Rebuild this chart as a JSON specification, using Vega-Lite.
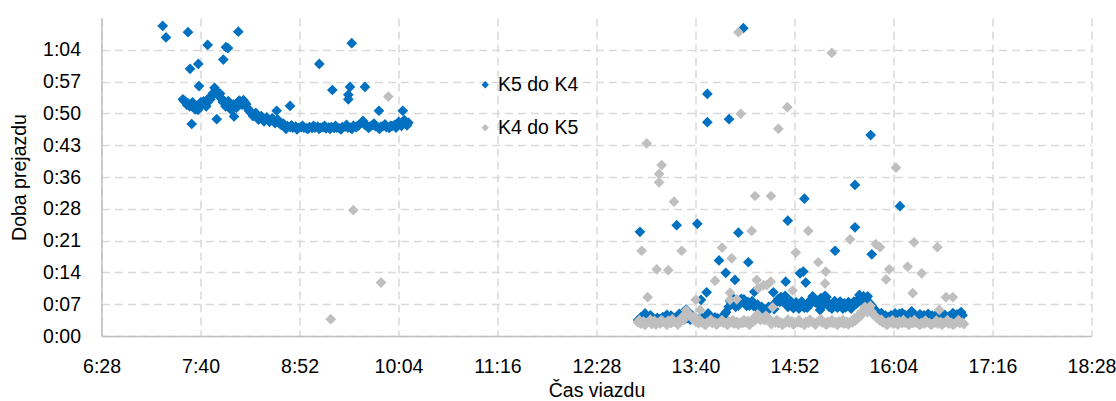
{
  "$schema": "https://vega.github.io/schema/vega-lite/v6.json",
  "autosize": {"type": "none"},
  "padding": {"left": 101.5, "top": 18, "right": 25, "bottom": 65},
  "width": 990,
  "height": 318,
  "background": "white",
  "config": {
    "view": {"stroke": null},
    "font": "Liberation Sans",
    "axis": {
      "labelFont": "Liberation Sans",
      "titleFont": "Liberation Sans",
      "labelFontSize": 19.5,
      "titleFontSize": 19.5,
      "titleFontWeight": "normal",
      "labelColor": "#000000",
      "titleColor": "#000000",
      "domainColor": "#BFBFBF",
      "domainWidth": 1.5,
      "gridColor": "#D9D9D9",
      "gridDash": [8, 5],
      "gridWidth": 1.5,
      "ticks": false,
      "tickSize": 0
    },
    "legend": {
      "labelFont": "Liberation Sans",
      "labelFontSize": 19.5,
      "labelColor": "#000000"
    }
  },
  "datasets": {
    "blue": [
      {"t":448,"v":53.6},{"t":449,"v":53.2},{"t":450,"v":53.0},{"t":452,"v":52.6},{"t":453,"v":52.0},{"t":454,"v":52.2},{"t":456,"v":51.9},{"t":457,"v":51.3},{"t":458,"v":51.8},{"t":460,"v":52.2},{"t":462,"v":52.5},{"t":463,"v":53.1},{"t":464,"v":52.4},{"t":466,"v":53.0},{"t":468,"v":53.6},{"t":470,"v":55.0},{"t":471,"v":56.2},{"t":472,"v":55.6},{"t":473,"v":54.8},{"t":474,"v":54.4},{"t":476,"v":53.8},{"t":477,"v":53.0},{"t":478,"v":53.2},{"t":480,"v":52.6},{"t":482,"v":52.1},{"t":483,"v":51.2},{"t":484,"v":51.6},{"t":486,"v":52.0},{"t":488,"v":52.6},{"t":490,"v":53.0},{"t":491,"v":52.4},{"t":492,"v":53.4},{"t":494,"v":52.5},{"t":496,"v":51.0},{"t":498,"v":50.4},{"t":500,"v":50.0},{"t":502,"v":49.6},{"t":504,"v":49.3},{"t":506,"v":49.2},{"t":508,"v":49.0},{"t":510,"v":49.1},{"t":512,"v":48.9},{"t":514,"v":48.8},{"t":516,"v":48.6},{"t":518,"v":48.3},{"t":520,"v":47.8},{"t":522,"v":47.4},{"t":524,"v":47.5},{"t":526,"v":47.3},{"t":528,"v":47.2},{"t":530,"v":47.4},{"t":532,"v":47.1},{"t":534,"v":47.3},{"t":536,"v":47.2},{"t":538,"v":47.0},{"t":540,"v":47.3},{"t":542,"v":47.1},{"t":544,"v":47.2},{"t":546,"v":47.4},{"t":548,"v":47.1},{"t":550,"v":47.3},{"t":552,"v":47.0},{"t":554,"v":47.2},{"t":556,"v":47.3},{"t":558,"v":47.1},{"t":560,"v":47.2},{"t":562,"v":47.0},{"t":564,"v":47.3},{"t":566,"v":47.4},{"t":568,"v":47.2},{"t":570,"v":47.1},{"t":572,"v":47.6},{"t":574,"v":47.3},{"t":576,"v":47.8},{"t":578,"v":48.3},{"t":580,"v":47.9},{"t":582,"v":47.6},{"t":584,"v":47.4},{"t":586,"v":47.8},{"t":588,"v":47.5},{"t":590,"v":47.2},{"t":592,"v":47.4},{"t":594,"v":47.6},{"t":596,"v":47.3},{"t":598,"v":47.1},{"t":600,"v":47.5},{"t":602,"v":47.8},{"t":604,"v":47.6},{"t":606,"v":48.0},{"t":608,"v":48.4},{"t":610,"v":48.1},{"t":612,"v":48.3},
      {"t":451,"v":52.3},{"t":455,"v":52.9},{"t":459,"v":51.2},{"t":461,"v":52.9},{"t":465,"v":52.0},{"t":467,"v":53.9},{"t":469,"v":54.3},{"t":475,"v":54.9},{"t":479,"v":52.0},{"t":481,"v":53.2},{"t":485,"v":52.4},{"t":487,"v":51.7},{"t":489,"v":53.3},{"t":493,"v":52.9},{"t":495,"v":51.6},{"t":497,"v":50.9},{"t":499,"v":49.8},{"t":501,"v":50.5},{"t":503,"v":49.0},{"t":505,"v":49.8},{"t":507,"v":48.6},{"t":509,"v":49.5},{"t":511,"v":48.5},{"t":513,"v":49.3},{"t":515,"v":48.2},{"t":517,"v":49.0},{"t":519,"v":47.9},{"t":521,"v":48.1},{"t":523,"v":46.9},{"t":527,"v":47.7},{"t":531,"v":46.8},{"t":535,"v":47.6},{"t":539,"v":46.9},{"t":543,"v":47.6},{"t":547,"v":46.9},{"t":551,"v":47.6},{"t":555,"v":46.9},{"t":559,"v":47.6},{"t":563,"v":46.8},{"t":567,"v":47.8},{"t":571,"v":46.9},{"t":575,"v":47.5},{"t":579,"v":48.7},{"t":583,"v":47.1},{"t":587,"v":48.1},{"t":591,"v":46.9},{"t":595,"v":47.9},{"t":599,"v":47.6},{"t":603,"v":47.2},{"t":605,"v":48.5},{"t":607,"v":47.6},{"t":609,"v":48.9},{"t":611,"v":47.7},
      {"t":433.3,"v":70.2},{"t":435.7,"v":67.6},{"t":451.7,"v":68.8},{"t":466,"v":65.9},{"t":488.3,"v":68.9},{"t":479.3,"v":65.4},{"t":480.8,"v":65.2},{"t":477.4,"v":62.6},{"t":459.2,"v":61.6},{"t":453.2,"v":60.5},{"t":459.7,"v":56.6},{"t":454.4,"v":48.0},{"t":472.6,"v":49.1},{"t":485.2,"v":49.7},{"t":516.2,"v":51.0},{"t":525.9,"v":52.1},{"t":547.2,"v":61.6},{"t":556.7,"v":55.7},{"t":570.8,"v":66.3},{"t":569.5,"v":56.4},{"t":568.3,"v":54.6},{"t":568.3,"v":53.6},{"t":580.4,"v":56.4},{"t":590.6,"v":51.0},{"t":607.9,"v":51.0},
      {"t":779,"v":3.6},{"t":781,"v":4.2},{"t":783,"v":3.8},{"t":785,"v":4.4},{"t":787,"v":3.7},{"t":789,"v":4.0},{"t":791,"v":3.5},{"t":793,"v":4.1},{"t":795,"v":3.8},{"t":797,"v":4.3},{"t":799,"v":3.6},{"t":801,"v":4.0},{"t":803,"v":4.6},{"t":805,"v":3.9},{"t":807,"v":4.2},{"t":809,"v":5.0},{"t":811,"v":4.4},{"t":813,"v":3.8},{"t":815,"v":4.1},{"t":817,"v":3.7},{"t":819,"v":4.3},{"t":821,"v":4.0},{"t":823,"v":3.6},{"t":825,"v":4.2},{"t":827,"v":3.9},{"t":829,"v":4.5},{"t":831,"v":4.1},{"t":833,"v":3.8},{"t":835,"v":4.2},{"t":837,"v":4.0},{"t":839,"v":3.7},{"t":841,"v":4.4},{"t":843,"v":5.4},{"t":845,"v":6.6},{"t":846,"v":7.9},{"t":847,"v":7.4},{"t":849,"v":7.8},{"t":850,"v":6.6},{"t":851,"v":7.3},{"t":853,"v":7.6},{"t":854,"v":8.4},{"t":855,"v":7.9},{"t":857,"v":7.4},{"t":859,"v":7.7},{"t":860,"v":6.9},{"t":861,"v":7.2},{"t":863,"v":6.8},{"t":865,"v":6.5},{"t":867,"v":6.2},{"t":869,"v":6.6},{"t":871,"v":6.0},{"t":873,"v":5.8},{"t":875,"v":6.3},{"t":877,"v":6.9},{"t":879,"v":7.6},{"t":881,"v":8.4},{"t":883,"v":8.8},{"t":884,"v":7.8},{"t":885,"v":8.2},{"t":887,"v":7.5},{"t":889,"v":7.0},{"t":891,"v":7.3},{"t":892,"v":6.3},{"t":893,"v":6.8},{"t":895,"v":7.1},{"t":897,"v":6.7},{"t":899,"v":7.2},{"t":900,"v":6.4},{"t":901,"v":7.0},{"t":903,"v":7.6},{"t":905,"v":8.3},{"t":907,"v":8.6},{"t":908,"v":7.6},{"t":909,"v":8.0},{"t":911,"v":7.4},{"t":913,"v":7.8},{"t":915,"v":8.3},{"t":917,"v":7.5},{"t":919,"v":7.0},{"t":920,"v":6.2},{"t":921,"v":7.3},{"t":923,"v":6.8},{"t":925,"v":7.2},{"t":927,"v":6.9},{"t":928,"v":6.2},{"t":929,"v":7.4},{"t":931,"v":7.0},{"t":933,"v":6.6},{"t":935,"v":7.1},{"t":937,"v":7.5},{"t":939,"v":8.2},{"t":941,"v":8.8},{"t":942,"v":7.8},{"t":943,"v":9.0},{"t":945,"v":8.5},{"t":947,"v":7.6},{"t":949,"v":6.8},{"t":951,"v":6.0},{"t":953,"v":5.3},{"t":955,"v":4.8},{"t":957,"v":4.5},{"t":959,"v":4.6},{"t":961,"v":4.3},{"t":963,"v":4.7},{"t":965,"v":4.4},{"t":967,"v":4.6},{"t":969,"v":5.0},{"t":971,"v":5.2},{"t":973,"v":4.8},{"t":975,"v":4.5},{"t":977,"v":4.9},{"t":979,"v":5.1},{"t":981,"v":4.6},{"t":983,"v":4.3},{"t":985,"v":4.4},{"t":987,"v":4.7},{"t":989,"v":4.5},{"t":991,"v":4.2},{"t":993,"v":4.6},{"t":995,"v":4.4},{"t":997,"v":4.2},{"t":999,"v":4.5},{"t":1001,"v":4.3},{"t":1003,"v":4.1},{"t":1005,"v":4.4},{"t":1007,"v":4.6},{"t":1009,"v":4.5},{"t":1011,"v":4.9},{"t":1013,"v":5.1},{"t":1015,"v":4.7},
      {"t":848,"v":8.6},{"t":852,"v":6.9},{"t":856,"v":8.3},{"t":858,"v":6.8},{"t":862,"v":7.9},{"t":866,"v":7.1},{"t":870,"v":5.5},{"t":874,"v":6.6},{"t":878,"v":6.1},{"t":882,"v":7.7},{"t":886,"v":9.1},{"t":888,"v":6.6},{"t":890,"v":7.9},{"t":894,"v":7.6},{"t":896,"v":6.2},{"t":898,"v":7.8},{"t":902,"v":6.4},{"t":904,"v":7.1},{"t":906,"v":9.0},{"t":910,"v":7.2},{"t":912,"v":8.6},{"t":914,"v":7.1},{"t":916,"v":8.8},{"t":918,"v":6.6},{"t":922,"v":7.9},{"t":924,"v":6.4},{"t":926,"v":7.8},{"t":930,"v":6.5},{"t":932,"v":7.7},{"t":934,"v":6.2},{"t":936,"v":7.8},{"t":938,"v":7.3},{"t":940,"v":9.3},{"t":944,"v":8.1},{"t":946,"v":9.0},{"t":948,"v":7.2},{"t":950,"v":6.4},{"t":952,"v":5.6},
      {"t":782,"v":3.3},{"t":788,"v":4.7},{"t":794,"v":3.3},{"t":800,"v":4.8},{"t":806,"v":3.4},{"t":812,"v":5.3},{"t":818,"v":4.8},{"t":824,"v":3.3},{"t":830,"v":5.1},{"t":836,"v":3.5},{"t":842,"v":5.0},{"t":956,"v":5.2},{"t":960,"v":3.9},{"t":966,"v":5.1},{"t":972,"v":4.4},{"t":978,"v":5.6},{"t":984,"v":4.9},{"t":990,"v":5.0},{"t":996,"v":4.8},{"t":1002,"v":4.8},{"t":1008,"v":5.2},{"t":1014,"v":5.4},
      {"t":780.4,"v":23.6},{"t":807.1,"v":25.1},{"t":822.1,"v":25.4},{"t":829.4,"v":48.4},{"t":845.2,"v":49.1},{"t":852,"v":23.4},{"t":859.2,"v":16.7},{"t":837.9,"v":17.1},{"t":842.8,"v":14.3},{"t":849.5,"v":12.7},{"t":828.9,"v":9.9},{"t":824.8,"v":8.2},{"t":813.9,"v":6.0},{"t":784.1,"v":5.1},{"t":887.9,"v":26.1},{"t":900,"v":31.1},{"t":886.4,"v":12.3},{"t":896.8,"v":14.2},{"t":899.2,"v":14.6},{"t":901,"v":12.1},{"t":863.6,"v":10.0},{"t":877.4,"v":9.9},{"t":922.3,"v":19.3},{"t":936.8,"v":34.2},{"t":936.8,"v":24.6},{"t":948.2,"v":45.5},{"t":949,"v":18.5},{"t":969.5,"v":29.4},{"t":911.4,"v":5.9},{"t":915,"v":9.1},{"t":855.6,"v":69.7},{"t":829.4,"v":54.8}
    ],
    "gray": [
      {"t":571.9,"v":28.5},{"t":592.1,"v":12.1},{"t":555.5,"v":3.8},{"t":597.4,"v":54.2},
      {"t":779,"v":3.1},{"t":781,"v":2.8},{"t":783,"v":3.3},{"t":785,"v":2.9},{"t":787,"v":3.2},{"t":789,"v":2.7},{"t":791,"v":3.4},{"t":793,"v":3.0},{"t":795,"v":2.8},{"t":797,"v":3.3},{"t":799,"v":3.0},{"t":801,"v":3.5},{"t":803,"v":2.9},{"t":805,"v":3.2},{"t":807,"v":3.0},{"t":809,"v":3.6},{"t":811,"v":4.2},{"t":813,"v":4.8},{"t":815,"v":5.4},{"t":817,"v":4.6},{"t":819,"v":3.8},{"t":821,"v":3.2},{"t":823,"v":2.9},{"t":825,"v":3.1},{"t":827,"v":2.8},{"t":829,"v":3.0},{"t":831,"v":3.3},{"t":833,"v":2.9},{"t":835,"v":3.1},{"t":837,"v":2.8},{"t":839,"v":3.2},{"t":841,"v":3.0},{"t":843,"v":2.9},{"t":845,"v":3.3},{"t":847,"v":3.1},{"t":849,"v":2.8},{"t":851,"v":3.2},{"t":853,"v":3.0},{"t":855,"v":2.9},{"t":857,"v":3.1},{"t":859,"v":3.4},{"t":861,"v":3.0},{"t":863,"v":3.3},{"t":865,"v":3.8},{"t":867,"v":4.4},{"t":869,"v":4.0},{"t":871,"v":3.6},{"t":873,"v":4.2},{"t":875,"v":3.7},{"t":877,"v":3.2},{"t":879,"v":3.0},{"t":881,"v":2.9},{"t":883,"v":3.1},{"t":885,"v":2.8},{"t":887,"v":3.2},{"t":889,"v":3.0},{"t":891,"v":3.3},{"t":893,"v":2.9},{"t":895,"v":3.1},{"t":897,"v":3.0},{"t":899,"v":2.8},{"t":901,"v":3.2},{"t":903,"v":3.0},{"t":905,"v":3.3},{"t":907,"v":2.9},{"t":909,"v":3.1},{"t":911,"v":3.4},{"t":913,"v":3.0},{"t":915,"v":2.8},{"t":917,"v":3.2},{"t":919,"v":3.0},{"t":921,"v":2.9},{"t":923,"v":3.1},{"t":925,"v":3.3},{"t":927,"v":3.0},{"t":929,"v":2.8},{"t":931,"v":3.2},{"t":933,"v":3.0},{"t":935,"v":3.1},{"t":937,"v":3.5},{"t":939,"v":4.0},{"t":941,"v":4.6},{"t":943,"v":5.3},{"t":945,"v":6.0},{"t":947,"v":6.3},{"t":949,"v":5.5},{"t":951,"v":4.7},{"t":953,"v":4.0},{"t":955,"v":3.5},{"t":957,"v":3.1},{"t":959,"v":2.9},{"t":961,"v":3.2},{"t":963,"v":3.0},{"t":965,"v":2.8},{"t":967,"v":3.1},{"t":969,"v":3.3},{"t":971,"v":2.9},{"t":973,"v":3.0},{"t":975,"v":2.8},{"t":977,"v":3.2},{"t":979,"v":2.9},{"t":981,"v":3.1},{"t":983,"v":2.7},{"t":985,"v":3.0},{"t":987,"v":2.8},{"t":989,"v":3.1},{"t":991,"v":2.9},{"t":993,"v":2.7},{"t":995,"v":3.0},{"t":997,"v":2.8},{"t":999,"v":3.2},{"t":1001,"v":2.9},{"t":1003,"v":3.1},{"t":1005,"v":2.8},{"t":1007,"v":3.0},{"t":1009,"v":2.7},{"t":1011,"v":3.2},{"t":1013,"v":2.9},{"t":1015,"v":3.0},{"t":1016,"v":2.7},
      {"t":780,"v":3.6},{"t":784,"v":2.5},{"t":788,"v":3.7},{"t":792,"v":2.6},{"t":796,"v":3.6},{"t":800,"v":2.5},{"t":804,"v":3.8},{"t":808,"v":2.6},{"t":812,"v":3.6},{"t":814,"v":5.8},{"t":816,"v":4.9},{"t":820,"v":4.4},{"t":824,"v":3.6},{"t":828,"v":2.5},{"t":832,"v":3.7},{"t":836,"v":2.6},{"t":840,"v":3.6},{"t":844,"v":2.5},{"t":848,"v":3.6},{"t":852,"v":2.6},{"t":856,"v":3.6},{"t":860,"v":2.5},{"t":864,"v":4.3},{"t":866,"v":4.9},{"t":868,"v":3.6},{"t":872,"v":4.6},{"t":876,"v":2.7},{"t":880,"v":3.6},{"t":884,"v":2.5},{"t":888,"v":3.7},{"t":892,"v":2.6},{"t":896,"v":3.6},{"t":900,"v":2.5},{"t":904,"v":3.7},{"t":908,"v":2.6},{"t":912,"v":3.8},{"t":916,"v":2.6},{"t":920,"v":3.6},{"t":924,"v":2.5},{"t":928,"v":3.6},{"t":932,"v":2.6},{"t":936,"v":3.9},{"t":940,"v":4.9},{"t":942,"v":5.6},{"t":944,"v":6.6},{"t":946,"v":5.4},{"t":948,"v":6.8},{"t":950,"v":4.9},{"t":952,"v":4.3},{"t":956,"v":3.7},{"t":960,"v":2.5},{"t":964,"v":3.6},{"t":968,"v":2.6},{"t":972,"v":3.6},{"t":976,"v":2.5},{"t":980,"v":3.6},{"t":984,"v":2.5},{"t":988,"v":3.5},{"t":992,"v":2.6},{"t":996,"v":3.5},{"t":1000,"v":2.5},{"t":1004,"v":3.6},{"t":1008,"v":2.6},{"t":1012,"v":3.6},
      {"t":785.3,"v":43.6},{"t":796.2,"v":38.7},{"t":794.3,"v":36.7},{"t":794.3,"v":34.8},{"t":805.2,"v":30.4},{"t":781.7,"v":19.3},{"t":792.6,"v":15.1},{"t":801,"v":14.9},{"t":786,"v":8.8},{"t":810.8,"v":19.3},{"t":853.7,"v":50.3},{"t":887.6,"v":51.8},{"t":881.1,"v":46.9},{"t":864.1,"v":31.7},{"t":875.7,"v":31.7},{"t":861.7,"v":23.8},{"t":902.8,"v":23.8},{"t":840.1,"v":20.0},{"t":847.1,"v":17.6},{"t":835,"v":12.5},{"t":845.9,"v":9.8},{"t":865.3,"v":12.7},{"t":872.6,"v":11.5},{"t":875.5,"v":12.3},{"t":893.7,"v":18.9},{"t":910.1,"v":16.7},{"t":915.5,"v":14.6},{"t":915,"v":11.9},{"t":933.2,"v":21.9},{"t":951.9,"v":20.8},{"t":955,"v":20.1},{"t":961.7,"v":15.1},{"t":959.4,"v":12.8},{"t":966.6,"v":38.1},{"t":821,"v":8.2},{"t":845.9,"v":8.2},{"t":850.8,"v":8.3},{"t":866.5,"v":10.8},{"t":870.2,"v":11.5},{"t":891.5,"v":10.3},{"t":876.9,"v":6.5},{"t":824.1,"v":5.9},{"t":852,"v":68.8},{"t":919.9,"v":64.1},{"t":979.8,"v":21.2},{"t":996.7,"v":20.1},{"t":975.1,"v":15.7},{"t":985.3,"v":14.2},{"t":978.8,"v":9.7},{"t":1003,"v":8.8},{"t":1007.9,"v":8.8},{"t":998.1,"v":5.9}
    ]
  },
  "encoding": {
    "x": {
      "field": "t", "type": "quantitative",
      "scale": {"domain": [388.8, 1108.8], "nice": false, "zero": false},
      "axis": {
        "title": "Čas viazdu",
        "values": [388.8, 460.8, 532.8, 604.8, 676.8, 748.8, 820.8, 892.8, 964.8, 1036.8, 1108.8],
        "labelExpr": "floor(datum.value/60) + ':' + (floor(datum.value%60) < 10 ? '0' : '') + floor(datum.value%60)",
        "labelBaseline": "alphabetic",
        "labelPadding": 36.5,
        "labelFlush": false,
        "labelOverlap": false,
        "titleBaseline": "alphabetic",
        "titleY": 60,
        "titleX": 495
      }
    },
    "y": {
      "field": "v", "type": "quantitative",
      "scale": {"domain": [0, 72], "nice": false, "zero": true},
      "axis": {
        "title": "Doba prejazdu",
        "values": [0, 7.2, 14.4, 21.6, 28.8, 36, 43.2, 50.4, 57.6, 64.8],
        "labelExpr": "floor(datum.value/60) + ':' + (floor(datum.value%60) < 10 ? '0' : '') + floor(datum.value%60)",
        "labelPadding": 21,
        "labelFlush": false,
        "labelOverlap": false,
        "titleBaseline": "middle",
        "titleX": -82,
        "titleY": 159
      }
    },
    "color": {
      "scale": {"domain": ["K5 do K4", "K4 do K5"], "range": ["#0070C0", "#BFBFBF"]},
      "legend": {
        "title": null,
        "orient": "none",
        "legendX": 374,
        "legendY": 57,
        "padding": 0,
        "symbolType": "diamond",
        "symbolSize": 55,
        "symbolStrokeWidth": 0,
        "labelOffset": 3,
        "rowPadding": 22
      }
    }
  },
  "layer": [
    {
      "data": {"name": "blue"},
      "mark": {"type": "point", "shape": "diamond", "filled": true, "size": 115, "opacity": 1, "strokeWidth": 0},
      "encoding": {"color": {"datum": "K5 do K4"}}
    },
    {
      "data": {"name": "gray"},
      "mark": {"type": "point", "shape": "diamond", "filled": true, "size": 115, "opacity": 1, "strokeWidth": 0},
      "encoding": {"color": {"datum": "K4 do K5"}}
    }
  ]
}
